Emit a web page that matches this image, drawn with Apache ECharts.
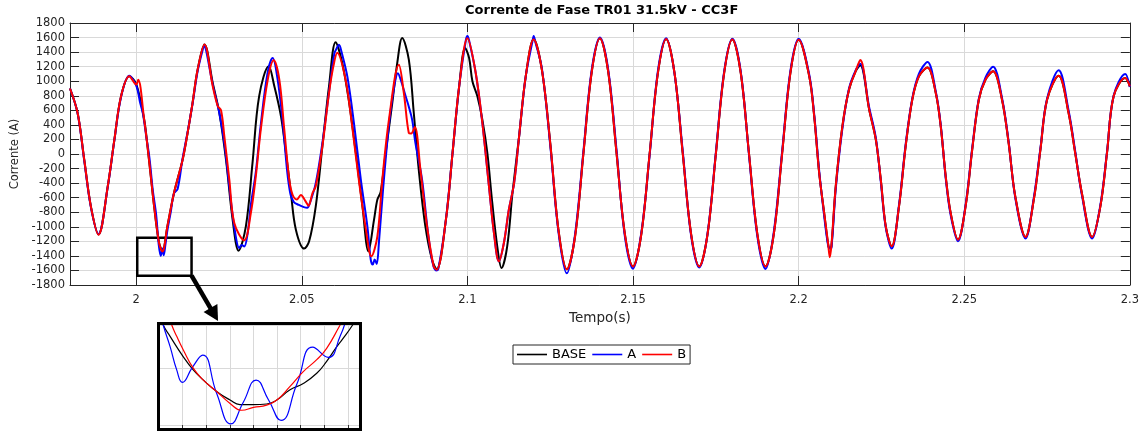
<!DOCTYPE html>
<html><head><meta charset="utf-8">
<script src="https://cdn.jsdelivr.net/npm/echarts@6/dist/echarts.min.js"></script>
<style>html,body{margin:0;padding:0;background:#fff}#c{width:1142px;height:432px}</style>
</head><body><div id="c"></div>
<script>
// ---------- data ----------
const xTicks = [2, 2.05, 2.1, 2.15, 2.2, 2.25, 2.3];

// BASE (transient part)
const baseT = [1.9800,1.9823,1.9843,1.9863,1.9886,1.9914,1.9934,1.9954,1.9979,2.0000,2.0024,2.0034,2.0044,2.0054,2.0069,2.0079,2.0094,2.0114,2.0140,2.0155,2.0170,2.0185,2.0206,2.0231,2.0251,2.0271,2.0291,2.0309,2.0331,2.0351,2.0371,2.0400,2.0417,2.0437,2.0452,2.0467,2.0482,2.0507,2.0522,2.0542,2.0562,2.0582,2.0602,2.0622,2.0643,2.0663,2.0683,2.0701,2.0718,2.0728,2.0738,2.0753,2.0773,2.0788,2.0803,2.0823,2.0838,2.0853,2.0873,2.0893,2.0907,2.0935,2.0955,2.0975,2.0993,2.1005,2.1015,2.1030,2.1045,2.1060,2.1075,2.1090,2.1103,2.1120,2.1136,2.1156,2.1176,2.1200];
const baseV = [900,563,-78,-720,-1105,-444,197,792,1070,960,472,105,-307,-720,-1223,-1330,-994,-536,-78,288,700,1150,1505,975,563,-78,-902,-1328,-994,-124,792,1205,930,517,14,-536,-1040,-1300,-1200,-719,105,930,1534,1250,700,14,-720,-1337,-902,-627,-520,14,700,1250,1594,1296,563,-215,-994,-1452,-1585,-902,14,930,1456,1319,1000,792,472,14,-673,-1269,-1566,-1269,-536,243,1067,1580];

// A (transient part)
const aT = [1.9800,1.9823,1.9843,1.9863,1.9886,1.9914,1.9934,1.9954,1.9979,2.0000,2.0012,2.0020,2.0030,2.0040,2.0050,2.0060,2.0068,2.0074,2.0079,2.0083,2.0088,2.0094,2.0104,2.0114,2.0125,2.0140,2.0155,2.0170,2.0185,2.0200,2.0206,2.0212,2.0231,2.0251,2.0266,2.0281,2.0296,2.0311,2.0318,2.0326,2.0336,2.0346,2.0361,2.0376,2.0396,2.0412,2.0426,2.0441,2.0456,2.0466,2.0476,2.0491,2.0506,2.0516,2.0526,2.0542,2.0562,2.0582,2.0598,2.0605,2.0612,2.0620,2.0638,2.0658,2.0678,2.0698,2.0708,2.0714,2.0720,2.0726,2.0733,2.0745,2.0763,2.0778,2.0790,2.0800,2.0813,2.0823,2.0833,2.0843,2.0863,2.0880,2.0895,2.0905,2.0912,2.0935,2.0955,2.0975,2.0995,2.1000,2.1005,2.1025,2.1045,2.1065,2.1080,2.1095,2.1110,2.1125,2.1141,2.1156,2.1176,2.1196,2.1200,2.1205];
const aV = [900,560,-90,-730,-1100,-450,190,780,1075,940,700,560,250,-60,-500,-830,-1250,-1400,-1300,-1390,-1250,-1050,-800,-540,-480,-60,300,690,1130,1420,1488,1400,950,560,150,-450,-1000,-1292,-1250,-1270,-1100,-700,-250,400,1100,1319,1050,500,-250,-560,-660,-700,-730,-740,-650,-400,150,850,1380,1450,1500,1400,1050,400,-350,-1000,-1450,-1520,-1450,-1510,-1200,-500,400,900,1110,1000,800,650,472,150,-353,-1050,-1500,-1600,-1580,-902,14,930,1560,1620,1560,1113,426,-444,-1085,-1475,-1223,-765,-398,243,1067,1540,1620,1540];

// B (transient part)
const bT = [1.9800,1.9823,1.9843,1.9863,1.9886,1.9914,1.9934,1.9954,1.9979,2.0000,2.0006,2.0024,2.0034,2.0044,2.0054,2.0069,2.0079,2.0094,2.0114,2.0140,2.0155,2.0170,2.0185,2.0206,2.0231,2.0246,2.0256,2.0266,2.0281,2.0296,2.0326,2.0346,2.0361,2.0376,2.0397,2.0415,2.0432,2.0447,2.0462,2.0472,2.0485,2.0497,2.0510,2.0520,2.0532,2.0542,2.0562,2.0582,2.0595,2.0607,2.0632,2.0652,2.0672,2.0692,2.0710,2.0728,2.0743,2.0763,2.0793,2.0808,2.0823,2.0830,2.0841,2.0858,2.0878,2.0898,2.0907,2.0935,2.0955,2.0975,2.1000,2.1025,2.1045,2.1065,2.1080,2.1095,2.1110,2.1125,2.1141,2.1156,2.1176,2.1200];
const bV = [900,563,-78,-720,-1110,-444,197,792,1070,955,1020,472,105,-307,-720,-1223,-1340,-994,-536,-78,288,700,1150,1505,930,660,600,243,-353,-948,-1186,-811,-307,334,1021,1287,1021,334,-353,-560,-625,-565,-640,-710,-540,-444,105,838,1200,1390,1021,380,-353,-994,-1406,-1131,-353,472,1227,838,289,280,371,-215,-994,-1543,-1590,-902,14,930,1590,1113,426,-444,-1085,-1475,-1223,-765,-398,243,1067,1575];

// steady part after 2.12 s (common time samples)
const tailT = [2.1225,2.1250,2.1275,2.1300,2.1325,2.1350,2.1375,2.1400,2.1425,2.1450,2.1475,2.1500,2.1525,2.1550,2.1575,2.1600,2.1625,2.1650,2.1675,2.1700,2.1725,2.1750,2.1775,2.1800,2.1825,2.1850,2.1875,2.1900,2.1925,2.1950,2.1975,2.2000,2.2032,2.2047,2.2062,2.2077,2.2089,2.2094,2.2099,2.2112,2.2132,2.2152,2.2172,2.2186,2.2213,2.2233,2.2248,2.2263,2.2281,2.2303,2.2323,2.2343,2.2363,2.2389,2.2414,2.2429,2.2444,2.2459,2.2481,2.2504,2.2524,2.2544,2.2564,2.2587,2.2614,2.2634,2.2654,2.2685,2.2710,2.2730,2.2750,2.2785,2.2815,2.2835,2.2855,2.2886,2.2911,2.2931,2.2951,2.2986,2.3000];
const tailBase = [1150,150,-1050,-1585,-1130,0,1120,1590,1130,20,-1090,-1545,-1100,0,1110,1580,1120,10,-1090,-1545,-1100,0,1110,1575,1120,10,-1090,-1545,-1100,0,1110,1570,1067,517,-261,-810,-1240,-1290,-1270,-444,380,884,1136,1220,609,197,-353,-994,-1268,-719,105,746,1067,1190,838,380,-307,-811,-1177,-719,60,746,1021,1136,746,151,-582,-1140,-627,60,746,1076,563,14,-536,-1140,-719,14,792,1044,930];
const tailA = [1170,120,-1080,-1640,-1100,30,1150,1600,1160,60,-1120,-1575,-1080,-20,1140,1590,1110,40,-1110,-1560,-1090,20,1130,1585,1140,-10,-1120,-1580,-1070,30,1140,1585,1090,540,-230,-850,-1260,-1300,-1290,-480,350,900,1150,1240,640,220,-380,-1010,-1300,-700,130,760,1100,1265,860,400,-330,-840,-1200,-700,80,760,1050,1200,770,170,-600,-1160,-600,80,760,1150,600,40,-560,-1160,-700,30,800,1100,920];
const tailB = [1150,150,-1050,-1585,-1130,0,1120,1590,1130,20,-1090,-1545,-1100,0,1110,1580,1120,10,-1090,-1545,-1100,0,1110,1575,1120,10,-1090,-1545,-1100,0,1110,1570,1067,517,-261,-810,-1230,-1420,-1250,-444,380,884,1136,1290,609,197,-353,-994,-1268,-719,105,746,1067,1190,838,380,-307,-811,-1177,-719,60,746,1021,1136,746,151,-582,-1140,-627,60,746,1076,563,14,-536,-1140,-719,14,792,1044,930];

// zoom box (time, current) in the main plot
const boxT = [2.0003, 2.0167];
const boxV = [-1672, -1150];

// inset (detail) curves, inset units
const insetBaseX = [0.05,0.18,0.47,1.03,1.45,1.88,2.44,3.01,3.43,4.0,4.56,4.99,5.55,6.11,6.68,7.1,7.53,7.9,8.2,8.4];
const insetBaseY = [1.95,1.76,1.56,1.20,0.97,0.79,0.59,0.44,0.36,0.36,0.37,0.44,0.62,0.73,0.91,1.12,1.38,1.58,1.76,1.9];
const insetAX = [0.1,0.18,0.47,0.75,0.99,1.42,1.85,2.44,3.04,3.57,4.11,4.64,5.17,5.84,6.51,7.17,7.67,7.95];
const insetAY = [1.95,1.76,1.38,0.97,0.75,1.02,1.23,0.56,0.02,0.40,0.79,0.44,0.08,0.72,1.37,1.19,1.56,1.9];
const insetBX = [0.45,0.54,0.75,1.03,1.45,1.88,2.44,3.01,3.5,4.0,4.56,4.99,5.55,6.11,6.68,7.1,7.67,7.8];
const insetBY = [1.9,1.76,1.56,1.32,1.0,0.79,0.59,0.38,0.26,0.31,0.35,0.44,0.68,0.94,1.15,1.35,1.76,1.86];

// ---------- chart ----------
const FONT = 'DejaVu Sans';
const AX = '#262626';
const GRIDC = '#d9d9d9';
const pairs = (t, v) => t.map((x, i) => [x, v[i]]);

const chart = echarts.init(document.getElementById('c'), null, {renderer: 'canvas'});

function mainSeries(name, color, t, v, extra) {
  return Object.assign({
    name, type: 'line', xAxisIndex: 0, yAxisIndex: 0,
    data: pairs(t, v), showSymbol: false, symbol: 'none', smooth: 0.35,
    lineStyle: {color, width: 2}, itemStyle: {color}, animation: false, z: 3
  }, extra || {});
}
function insetSeries(name, color, x, y) {
  return {
    name, type: 'line', xAxisIndex: 2, yAxisIndex: 2,
    data: pairs(x, y), showSymbol: false, symbol: 'none', smooth: 0.5,
    lineStyle: {color, width: 1.2}, itemStyle: {color}, animation: false, z: 3
  };
}

const option = {
  animation: false,
  backgroundColor: '#fff',
  title: {
    text: 'Corrente de Fase TR01 31.5kV - CC3F',
    left: 465, top: 4, padding: 0,
    textStyle: {fontFamily: FONT, fontWeight: 'bold', fontSize: 13, color: '#000'}
  },
  legend: {
    data: ['BASE', 'A', 'B'], left: 513, top: 345, orient: 'horizontal',
    icon: 'rect', itemWidth: 30, itemHeight: 1.6, itemGap: 6, padding: [3, 4, 3, 4],
    borderColor: AX, borderWidth: 1, backgroundColor: '#fff',
    textStyle: {fontFamily: FONT, fontSize: 13, color: '#000'}
  },
  grid: [
    {left: 70, top: 23, width: 1061, height: 262},
    {left: 159, top: 325, width: 200, height: 100}
  ],
  xAxis: [
    {
      type: 'value', gridIndex: 0, position: 'bottom', min: 1.98, max: 2.3,
      axisLine: {show: true, onZero: false, lineStyle: {color: AX, width: 1}},
      axisTick: {show: true, inside: true, length: 9, customValues: xTicks, lineStyle: {color: AX}},
      axisLabel: {show: true, customValues: xTicks, color: AX, fontFamily: FONT, fontSize: 11.5, margin: 9,
                  formatter: v => String(+(+v).toFixed(2))},
      splitLine: {show: true, lineStyle: {color: GRIDC, width: 1}},
      name: 'Tempo(s)', nameLocation: 'middle', nameGap: 26,
      nameTextStyle: {fontFamily: FONT, fontSize: 13.5, color: AX}
    },
    {
      type: 'value', gridIndex: 0, position: 'top', min: 1.98, max: 2.3,
      axisLine: {show: true, onZero: false, lineStyle: {color: AX, width: 1}},
      axisTick: {show: true, inside: true, length: 9, customValues: xTicks, lineStyle: {color: AX}},
      axisLabel: {show: false}, splitLine: {show: false}
    },
    {
      type: 'value', gridIndex: 1, min: 0, max: 8.47, interval: 1,
      axisLine: {show: false, onZero: false},
      axisTick: {show: true, inside: false, length: 3, lineStyle: {color: '#333'}},
      axisLabel: {show: false},
      splitLine: {show: true, lineStyle: {color: GRIDC, width: 1}}
    }
  ],
  yAxis: [
    {
      type: 'value', gridIndex: 0, position: 'left', min: -1800, max: 1800, interval: 200,
      axisLine: {show: true, onZero: false, lineStyle: {color: AX, width: 1}},
      axisTick: {show: true, inside: true, length: 9, lineStyle: {color: AX}},
      axisLabel: {color: AX, fontFamily: FONT, fontSize: 11.5, margin: 5, formatter: v => String(v)},
      splitLine: {show: true, lineStyle: {color: GRIDC, width: 1}},
      name: 'Corrente (A)', nameLocation: 'middle', nameGap: 42, nameRotate: 90,
      nameTextStyle: {fontFamily: FONT, fontSize: 11.5, color: AX}
    },
    {
      type: 'value', gridIndex: 0, position: 'right', min: -1800, max: 1800, interval: 200,
      axisLine: {show: true, onZero: false, lineStyle: {color: AX, width: 1}},
      axisTick: {show: true, inside: true, length: 9, lineStyle: {color: AX}},
      axisLabel: {show: false}, splitLine: {show: false}
    },
    {
      type: 'value', gridIndex: 1, min: 0, max: 1.76, interval: 1,
      axisLine: {show: false, onZero: false}, axisTick: {show: false},
      axisLabel: {show: false},
      splitLine: {show: true, lineStyle: {color: GRIDC, width: 1}}
    }
  ],
  series: [
    mainSeries('BASE', '#000000', baseT.concat(tailT), baseV.concat(tailBase)),
    mainSeries('A', '#0000ff', aT.concat(tailT), aV.concat(tailA)),
    mainSeries('B', '#ff0000', bT.concat(tailT), bV.concat(tailB), {
      markArea: {
        silent: true, label: {show: false},
        itemStyle: {color: 'rgba(0,0,0,0)', borderColor: '#000', borderWidth: 2.5},
        data: [[{coord: [boxT[0], boxV[1]]}, {coord: [boxT[1], boxV[0]]}]]
      }
    }),
    insetSeries('BASE', '#000000', insetBaseX, insetBaseY),
    insetSeries('A', '#0000ff', insetAX, insetAY),
    insetSeries('B', '#ff0000', insetBX, insetBY)
  ]
};
chart.setOption(option);

// arrow from the zoom box to the inset + inset frame
const p = chart.convertToPixel({seriesIndex: 2}, [boxT[1], boxV[0]]);
const tip = [p[0] + 26.5, 321];
const dx = tip[0] - p[0], dy = tip[1] - p[1];
const L = Math.hypot(dx, dy), ux = dx / L, uy = dy / L;
const headL = 15, headW = 8;
const bx = tip[0] - ux * headL, by = tip[1] - uy * headL;
chart.setOption({
  graphic: [
    {type: 'line', z: 100, shape: {x1: p[0], y1: p[1], x2: bx + ux * 2, y2: by + uy * 2},
     style: {stroke: '#000', lineWidth: 4.5}},
    {type: 'polygon', z: 100, shape: {points: [tip, [bx - uy * headW, by + ux * headW], [bx + uy * headW, by - ux * headW]]},
     style: {fill: '#000'}},
    {type: 'rect', z: 100, shape: {x: 158.5, y: 323.5, width: 202, height: 106},
     style: {fill: null, stroke: '#000', lineWidth: 3}}
  ]
});
</script>
</body></html>
